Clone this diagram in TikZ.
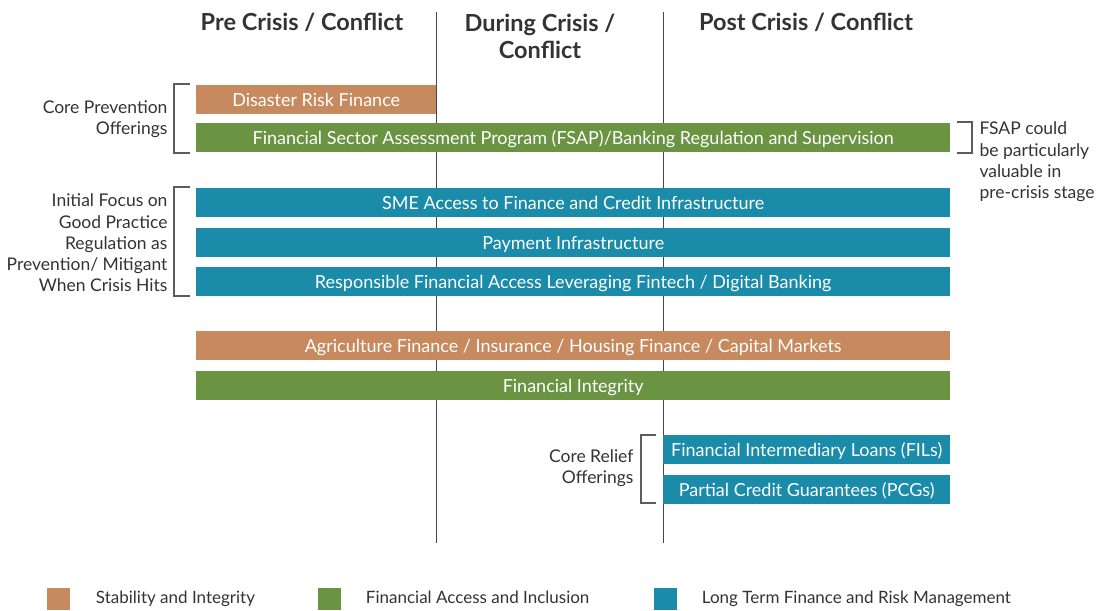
\documentclass[tikz,border=0pt]{standalone}
\usepackage{fontspec}
\setmainfont{Lato}
\usetikzlibrary{positioning}

\definecolor{stabcol}{HTML}{C68A5E}
\definecolor{accesscol}{HTML}{6A9441}
\definecolor{ltfcol}{HTML}{1A8CAA}
\definecolor{txtcol}{HTML}{333333}

\begin{document}
\begin{tikzpicture}[x=1pt, y=-1pt,
    bar/.style={anchor=north west, inner sep=0pt, minimum height=29pt,
        text height=13pt, text depth=0pt,
        text=white, font=\fontsize{18}{20}\selectfont},
    head/.style={font=\fontsize{23.5}{27}\selectfont\bfseries, text=txtcol, align=center},
    side/.style={font=\fontsize{17.5}{21.3}\selectfont, text=txtcol},
    brk/.style={draw=txtcol!80, line width=1.6pt},
    divider/.style={draw=txtcol!90, line width=1pt},
    keybox/.style={anchor=north west, inner sep=0pt, minimum width=23pt, minimum height=22pt},
    keytext/.style={anchor=west, text height=12pt, text depth=4pt,
        font=\fontsize{17}{19}\selectfont, text=txtcol}]
        \useasboundingbox (0,0) rectangle (1107,610);

        % Column headings and dividers
        \node[head] (pre) at (302,22) {Pre Crisis / Conflict};
        \node[head] (during) at (540,36) {During Crisis /\\Conflict};
        \node[head] (post) at (806,22) {Post Crisis / Conflict};
        \draw[divider] (436,12) -- (436,543);
        \draw[divider] (663,12) -- (663,543);

        % Core prevention offerings
        \node[bar, fill=stabcol, minimum width=240pt] (drf) at (196,85) {Disaster Risk Finance};
        \node[bar, fill=accesscol, minimum width=754pt] (fsap) at (196,123)
            {Financial Sector Assessment Program (FSAP)/Banking Regulation and Supervision};
        \draw[brk] (190,84) -- (174,84) -- (174,153) -- (190,153);
        \node[side, align=right, anchor=east] (prevent) at (171,119) {Core Prevention\\Offerings};

        % FSAP note
        \draw[brk] (957,122) -- (972,122) -- (972,153) -- (957,153);
        \node[side, align=left, anchor=west] (fsapnote) at (976,162)
            {FSAP could\\be particularly\\valuable in\\pre-crisis stage};

        % Initial focus on regulation
        \node[bar, fill=ltfcol, minimum width=754pt] (sme) at (196,188)
            {SME Access to Finance and Credit Infrastructure};
        \node[bar, fill=ltfcol, minimum width=754pt] (pay) at (196,228) {Payment Infrastructure};
        \node[bar, fill=ltfcol, minimum width=754pt] (resp) at (196,267)
            {Responsible Financial Access Leveraging Fintech / Digital Banking};
        \draw[brk] (190,187) -- (174,187) -- (174,296) -- (190,296);
        \node[side, align=right, anchor=east] (initial) at (171,243)
            {Initial Focus on\\Good Practice\\Regulation as\\Prevention/ Mitigant\\When Crisis Hits};

        % Across all stages
        \node[bar, fill=stabcol, minimum width=754pt] (agri) at (196,331)
            {Agriculture Finance / Insurance / Housing Finance / Capital Markets};
        \node[bar, fill=accesscol, minimum width=754pt] (integ) at (196,371) {Financial Integrity};

        % Core relief offerings
        \node[bar, fill=ltfcol, minimum width=287pt] (fil) at (663,435)
            {Financial Intermediary Loans (FILs)};
        \node[bar, fill=ltfcol, minimum width=287pt] (pcg) at (663,475)
            {Partial Credit Guarantees (PCGs)};
        \draw[brk] (656,435) -- (641,435) -- (641,503) -- (656,503);
        \node[side, align=right, anchor=east] (relief) at (637,468) {Core Relief\\Offerings};

        % Legend
        \node[keybox, fill=stabcol] (key1) at (47,588) {};
        \node[keytext, right=22pt of key1.east, anchor=west] (lab1) {Stability and Integrity};
        \node[keybox, fill=accesscol] (key2) at (318,588) {};
        \node[keytext, right=21pt of key2.east, anchor=west] (lab2) {Financial Access and Inclusion};
        \node[keybox, fill=ltfcol] (key3) at (654,588) {};
        \node[keytext, right=21pt of key3.east, anchor=west] (lab3) {Long Term Finance and Risk Management};
\end{tikzpicture}
\end{document}
